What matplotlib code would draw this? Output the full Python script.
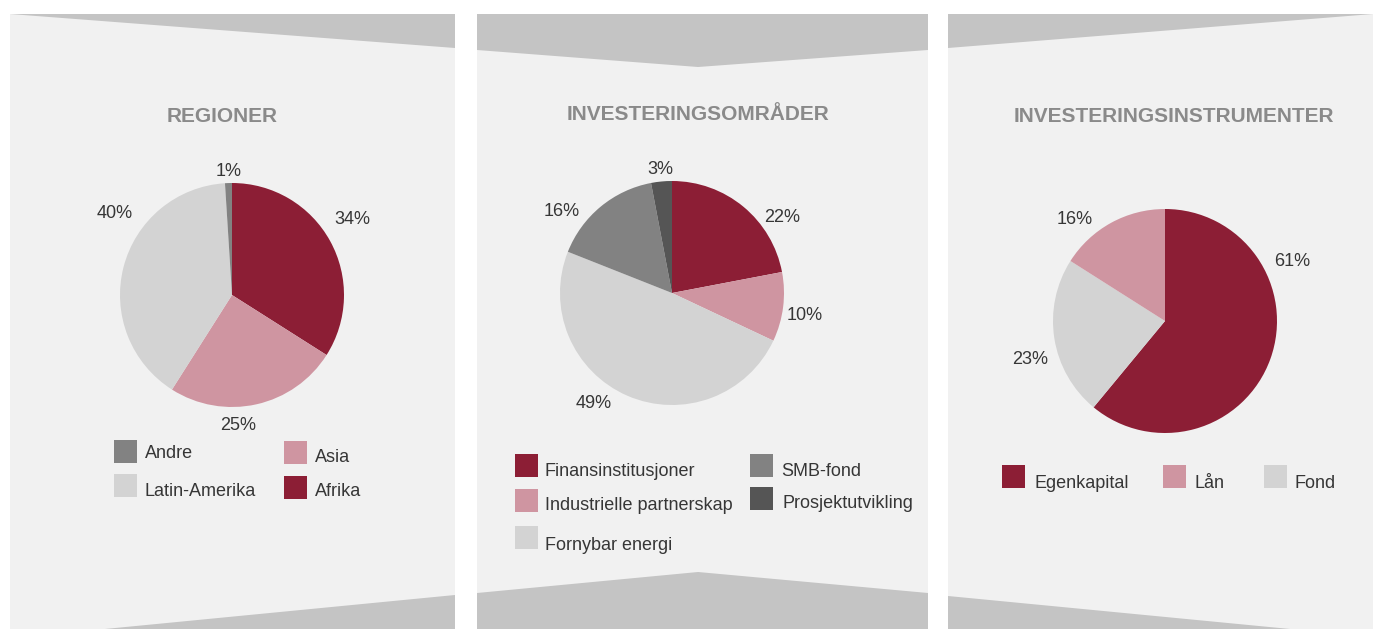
import matplotlib.pyplot as plt
from matplotlib.patches import Polygon, Rectangle

plt.rcParams['font.family'] = ['Liberation Sans', 'DejaVu Sans']

# data
reg_labels = ['Afrika', 'Asia', 'Latin-Amerika', 'Andre']
reg_values = [34, 25, 40, 1]

omr_labels = ['Finansinstitusjoner', 'Industrielle partnerskap', 'Fornybar energi',
              'SMB-fond', 'Prosjektutvikling']
omr_values = [22, 10, 49, 16, 3]

ins_labels = ['Egenkapital', 'Fond', 'Lån']
ins_values = [61, 23, 16]

titles = ['REGIONER', 'INVESTERINGSOMRÅDER', 'INVESTERINGSINSTRUMENTER']

# colours
RED = '#8c1e35'
PINK = '#cf95a1'
LIGHT = '#d3d3d3'
GRAY = '#828282'
DARK = '#555555'
BG = '#f1f1f1'
BAND = '#c4c4c4'
TXT = '#363636'

reg_colors = [RED, PINK, LIGHT, GRAY]
omr_colors = [RED, PINK, LIGHT, GRAY, DARK]
ins_colors = [RED, LIGHT, PINK]

W, H = 1373, 629
fig = plt.figure(figsize=(W / 100, H / 100), dpi=100)
fig.patch.set_facecolor('white')

bg = fig.add_axes([0, 0, 1, 1])
bg.set_xlim(0, W)
bg.set_ylim(H, 0)
bg.axis('off')

# panels (pixel coords, y down)
panels = [(10, 455), (477, 928), (948, 1373)]
for x0, x1 in panels:
    bg.add_patch(Rectangle((x0, 14), x1 - x0, H - 14, facecolor=BG, lw=0, zorder=0))

# grey bands
bg.add_patch(Polygon([(10, 14), (455, 14), (455, 48)], facecolor=BAND, lw=0, zorder=1))
bg.add_patch(Polygon([(105, H), (455, 595), (455, H)], facecolor=BAND, lw=0, zorder=1))
bg.add_patch(Polygon([(477, 14), (928, 14), (928, 50), (698, 67), (477, 50)],
                     facecolor=BAND, lw=0, zorder=1))
bg.add_patch(Polygon([(477, H), (477, 593), (698, 572), (928, 593), (928, H)],
                     facecolor=BAND, lw=0, zorder=1))
bg.add_patch(Polygon([(948, 14), (1373, 14), (948, 48)], facecolor=BAND, lw=0, zorder=1))
bg.add_patch(Polygon([(948, 596), (1290, H), (948, H)], facecolor=BAND, lw=0, zorder=1))

# titles
title_pos = [(222, 117), (698, 115), (1174, 117)]
for t, (x, y) in zip(titles, title_pos):
    bg.text(x, y, t, ha='center', va='center', fontsize=15, fontweight='bold',
            color='#8a8a8a')


def draw_pie(cx, cy, r, values, colors):
    ax = fig.add_axes([(cx - r) / W, 1 - (cy + r) / H, 2 * r / W, 2 * r / H])
    ax.pie(values, colors=colors, startangle=90, counterclock=False,
           wedgeprops=dict(linewidth=0))
    ax.set_xlim(-1, 1)
    ax.set_ylim(-1, 1)
    ax.set_aspect('equal')
    ax.axis('off')


draw_pie(232, 295, 112, reg_values, reg_colors)
draw_pie(672, 293, 112, omr_values, omr_colors)
draw_pie(1165, 321, 112, ins_values, ins_colors)

# percentage labels
reg_lab_pos = [(352, 220), (238, 425), (115, 214), (229, 172)]
omr_lab_pos = [(782, 217), (805, 315), (594, 404), (562, 211), (660, 169)]
ins_lab_pos = [(1292, 262), (1030, 359), (1075, 219)]
for vals, poss in [(reg_values, reg_lab_pos), (omr_values, omr_lab_pos),
                   (ins_values, ins_lab_pos)]:
    for v, (x, y) in zip(vals, poss):
        bg.text(x, y, f'{v}%', ha='center', va='center', fontsize=13, color=TXT)

# legends: (label, colour, square x, square y, text x, text y)
SQ = 23
legend_items = [
    ('Andre', GRAY, 114, 440, 145, 454),
    ('Asia', PINK, 284, 441, 315, 458),
    ('Latin-Amerika', LIGHT, 114, 474, 145, 492),
    ('Afrika', RED, 284, 476, 315, 492),
    ('Finansinstitusjoner', RED, 515, 454, 545, 472),
    ('SMB-fond', GRAY, 750, 454, 781, 471),
    ('Industrielle partnerskap', PINK, 515, 489, 545, 505),
    ('Prosjektutvikling', DARK, 750, 487, 783, 504),
    ('Fornybar energi', LIGHT, 515, 526, 545, 545),
    ('Egenkapital', RED, 1002, 465, 1034, 483),
    ('Lån', PINK, 1163, 465, 1194, 483),
    ('Fond', LIGHT, 1264, 465, 1294, 483),
]
for lab, col, sx, sy, tx, ty in legend_items:
    bg.add_patch(Rectangle((sx, sy), SQ, SQ, facecolor=col, lw=0, zorder=2))
    bg.text(tx, ty, lab, ha='left', va='center', fontsize=13, color=TXT)

fig.savefig('out.png', dpi=100, facecolor='white')
